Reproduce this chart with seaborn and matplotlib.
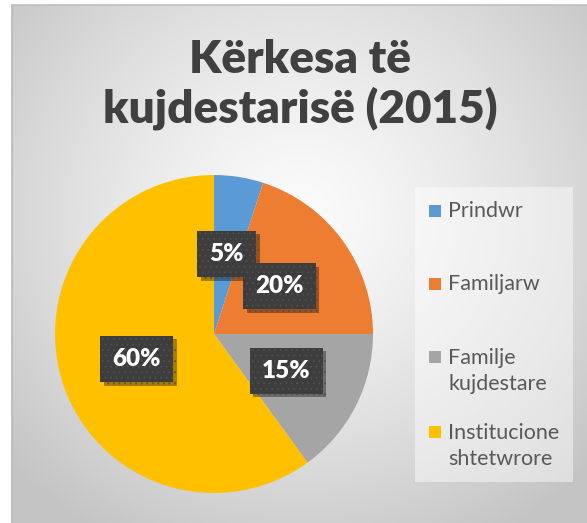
import numpy as np
import matplotlib
matplotlib.use('Agg')
import matplotlib.pyplot as plt
import seaborn as sns
from matplotlib.patches import Rectangle
import matplotlib.patheffects as pe

# ---- data ----
categories = ['Prindwr', 'Familjarw', 'Familje\nkujdestare', 'Institucione\nshtetwrore']
shares = [5, 20, 15, 60]
colors = ['#5B9BD5', '#ED7D31', '#A5A5A5', '#FFC000']
title_lines = ['Kërkesa të', 'kujdestarisë (2015)']

sns.set_theme(style='white')
plt.rcParams['font.family'] = ['Lato', 'DejaVu Sans']
plt.rcParams['hatch.linewidth'] = 0.6

W, H = 587, 523
fig = plt.figure(figsize=(W / 100, H / 100), dpi=100)
fig.patch.set_facecolor('white')

# background axes in pixel coordinates
bg = fig.add_axes([0, 0, 1, 1])
bg.set_xlim(0, W)
bg.set_ylim(H, 0)
bg.axis('off')

x0, y0 = 12, 5
yy, xx = np.mgrid[y0:H, x0:W]
cx, cy = 300, 215
d = np.hypot(xx - cx, (yy - cy) * 1.05) / 390.0
d = np.clip(d, 0, 1)
c0, c1 = 0.985, 0.77
img = c0 + (c1 - c0) * d ** 1.3
bg.imshow(np.dstack([img] * 3), extent=[x0, W, H, y0], aspect='auto',
          interpolation='bilinear', zorder=0)
bg.plot([x0, x0], [y0, H], color='#b8b8b8', lw=1.2, zorder=1)
bg.plot([x0, W], [y0, y0], color='#c0c0c0', lw=1.2, zorder=1)

# title
for line, yb in zip(title_lines, [73, 122]):
    bg.text(300, yb, line, ha='center', va='baseline', fontsize=33,
            fontweight='heavy', color='#404040', zorder=3)

# legend box (drawn manually to reproduce Excel spacing)
bg.add_patch(Rectangle((415, 187), 158, 295, facecolor='white', alpha=0.45,
                       edgecolor='none', zorder=2))
marker_y = [211, 283.5, 357, 432]
for lab, col, my in zip(categories, colors, marker_y):
    bg.add_patch(Rectangle((429, my - 6), 12, 12, facecolor=col,
                           edgecolor='none', zorder=3))
    nl = lab.count('\n') + 1
    bg.text(448, my + 14 * (nl - 1), lab, ha='left', va='center',
            fontsize=15.5, color='#595959', linespacing=1.38, zorder=3)

# pie
R = 159
pcx, pcy = 214, 334
ax = fig.add_axes([(pcx - R) / W, (H - pcy - R) / H, 2 * R / W, 2 * R / H])
wedges, texts, autotexts = ax.pie(
    shares, colors=colors, startangle=90, counterclock=False,
    autopct=lambda p: f'{p:.0f}%', pctdistance=0.51,
    wedgeprops=dict(linewidth=0))
ax.set_xlim(-1, 1)
ax.set_ylim(-1, 1)
ax.set_aspect('equal')
ax.axis('off')
ax.patch.set_alpha(0)

for t in autotexts:
    t.set_color('white')
    t.set_fontsize(17.5)
    t.set_fontweight('heavy')
    t.set_bbox(dict(boxstyle='square,pad=0.5', facecolor='#3d3d3d',
                    edgecolor='#505050', linewidth=0, hatch='...'))
    t.get_bbox_patch().set_path_effects([
        pe.SimplePatchShadow(offset=(2.5, -2.5), shadow_rgbFace='black', alpha=0.35),
        pe.Normal()])

fig.savefig('out.png', dpi=100)
